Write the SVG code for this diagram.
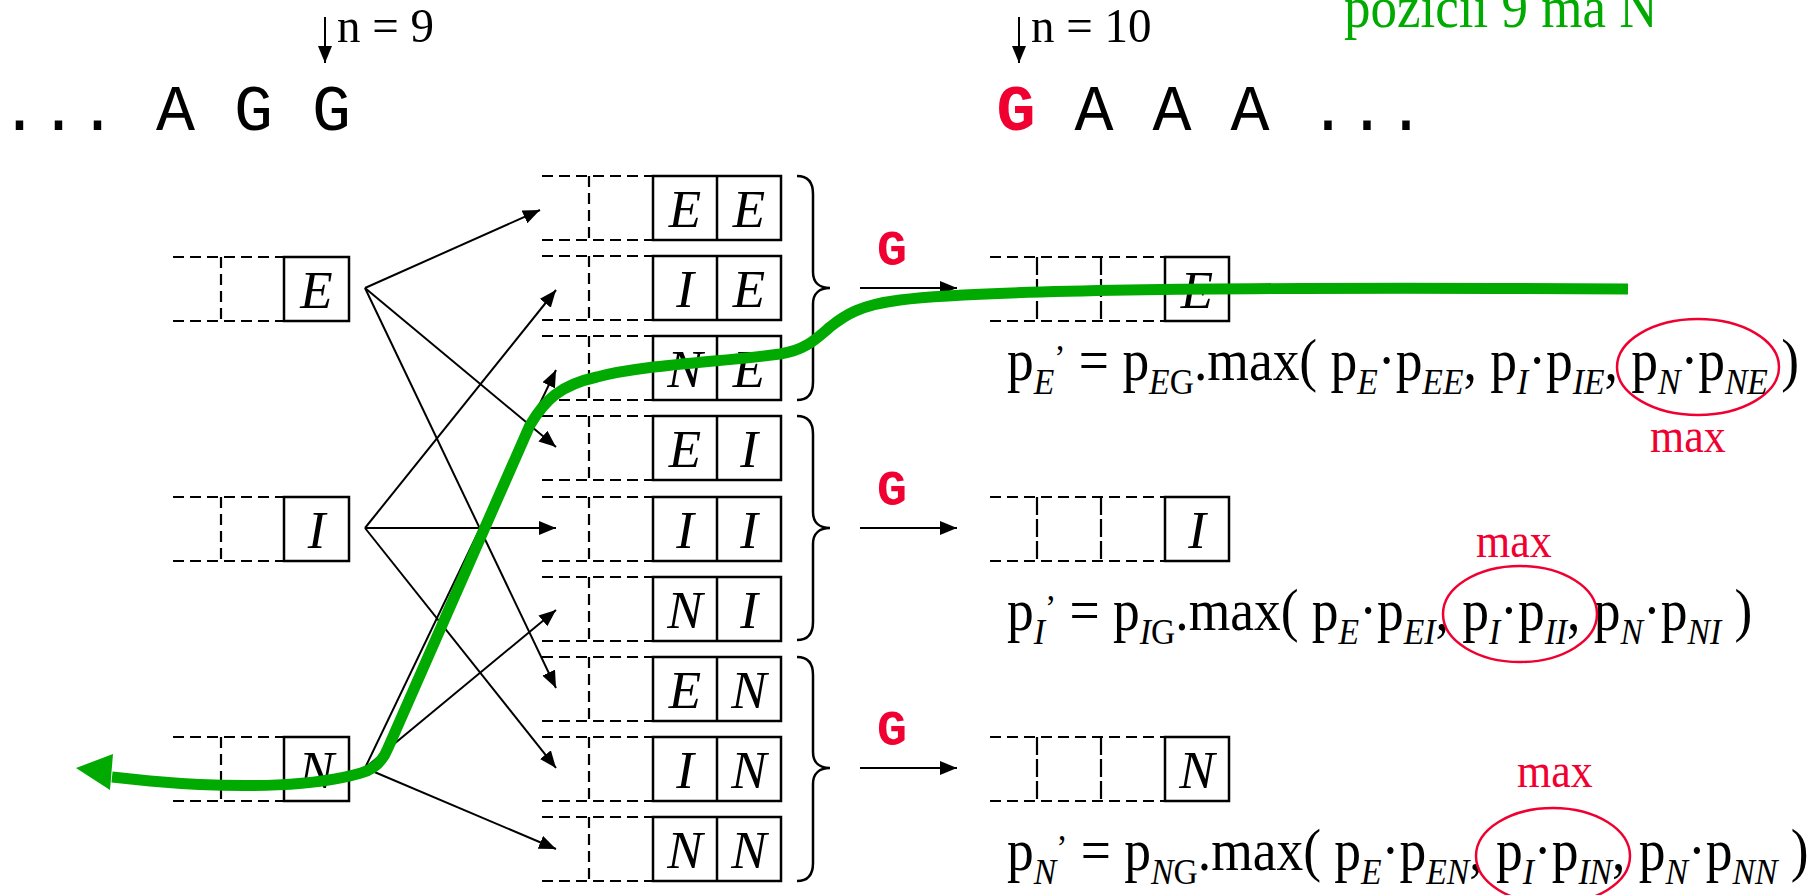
<svg xmlns="http://www.w3.org/2000/svg" width="1813" height="895" viewBox="0 0 1813 895">
<defs>
<marker id="ah" markerUnits="userSpaceOnUse" markerWidth="17" markerHeight="14" refX="17" refY="7" orient="auto"><path d="M0,0 L17,7 L0,14 z" fill="#000"/></marker>
</defs>
<style>
.d{fill:none;stroke:#000;stroke-width:2.2;stroke-dasharray:11 6}
.dl{fill:none;stroke:#000;stroke-width:2.2;stroke-dasharray:18 4}
.b{fill:none;stroke:#000;stroke-width:2.5}
.L{font-family:"Liberation Serif",serif;font-size:53px;font-style:italic;text-anchor:middle}
.f{font-family:"Liberation Serif",serif;font-size:54px}
.s{font-size:34px;font-style:italic}
.u{font-style:normal}
.m{font-family:"Liberation Serif",serif;font-size:44px;fill:#F00030}
.c{fill:none;stroke:#F00030;stroke-width:2.5}
.mono{font-family:"Liberation Mono",monospace;font-size:65px}
.g{font-family:"Liberation Mono",monospace;font-weight:bold;font-size:50px;fill:#F00030}
.a{stroke:#000;stroke-width:2;fill:none;marker-end:url(#ah)}
.br{fill:none;stroke:#000;stroke-width:2.5}
.n{font-family:"Liberation Serif",serif;font-size:47px}
</style>
<rect width="1813" height="895" fill="#fff"/>

<g id="sequence">
<text class="mono" x="0" y="130">... A G G</text>
<text class="mono" x="996.5" y="130"><tspan font-weight="bold" fill="#F00030">G</tspan> A A A ...</text>
<text class="n" transform="translate(337,42) scale(1,1.05)">n = 9</text>
<text class="n" transform="translate(1031,42) scale(1,1.05)">n = 10</text>
<text transform="translate(1344,27) scale(1,1.1)" font-family="Liberation Serif, serif" font-size="53" fill="#00AA00">pozicii 9 ma N</text>
</g>

<g id="state-E">
<path class="d" d="M173,257 H284 M173,321 H284 M221,257 V321"/>
<rect class="b" x="284" y="257" width="65" height="64"/>
<text class="L" x="316.5" y="308">E</text>
</g>
<g id="state-I">
<path class="d" d="M173,497 H284 M173,561 H284 M221,497 V561"/>
<rect class="b" x="284" y="497" width="65" height="64"/>
<text class="L" x="316.5" y="548">I</text>
</g>
<g id="state-N">
<path class="d" d="M173,737 H284 M173,801 H284 M221,737 V801"/>
<rect class="b" x="284" y="737" width="65" height="64"/>
<text class="L" x="316.5" y="788">N</text>
</g>

<g id="pair-EE"><path class="d" d="M542,176 H653 M542,240 H653 M589,176 V240"/><rect class="b" x="653" y="176" width="128" height="64"/><path class="b" d="M717,176 V240"/><text class="L" x="685" y="227">E</text><text class="L" x="749" y="227">E</text></g>
<g id="pair-IE"><path class="d" d="M542,256 H653 M542,320 H653 M589,256 V320"/><rect class="b" x="653" y="256" width="128" height="64"/><path class="b" d="M717,256 V320"/><text class="L" x="685" y="307">I</text><text class="L" x="749" y="307">E</text></g>
<g id="pair-NE"><path class="d" d="M542,336 H653 M542,400 H653 M589,336 V400"/><rect class="b" x="653" y="336" width="128" height="64"/><path class="b" d="M717,336 V400"/><text class="L" x="685" y="387">N</text><text class="L" x="749" y="387">E</text></g>
<g id="pair-EI"><path class="d" d="M542,416 H653 M542,480 H653 M589,416 V480"/><rect class="b" x="653" y="416" width="128" height="64"/><path class="b" d="M717,416 V480"/><text class="L" x="685" y="467">E</text><text class="L" x="749" y="467">I</text></g>
<g id="pair-II"><path class="d" d="M542,497 H653 M542,561 H653 M589,497 V561"/><rect class="b" x="653" y="497" width="128" height="64"/><path class="b" d="M717,497 V561"/><text class="L" x="685" y="548">I</text><text class="L" x="749" y="548">I</text></g>
<g id="pair-NI"><path class="d" d="M542,577 H653 M542,641 H653 M589,577 V641"/><rect class="b" x="653" y="577" width="128" height="64"/><path class="b" d="M717,577 V641"/><text class="L" x="685" y="628">N</text><text class="L" x="749" y="628">I</text></g>
<g id="pair-EN"><path class="d" d="M542,657 H653 M542,721 H653 M589,657 V721"/><rect class="b" x="653" y="657" width="128" height="64"/><path class="b" d="M717,657 V721"/><text class="L" x="685" y="708">E</text><text class="L" x="749" y="708">N</text></g>
<g id="pair-IN"><path class="d" d="M542,737 H653 M542,801 H653 M589,737 V801"/><rect class="b" x="653" y="737" width="128" height="64"/><path class="b" d="M717,737 V801"/><text class="L" x="685" y="788">I</text><text class="L" x="749" y="788">N</text></g>
<g id="pair-NN"><path class="d" d="M542,817 H653 M542,881 H653 M589,817 V881"/><rect class="b" x="653" y="817" width="128" height="64"/><path class="b" d="M717,817 V881"/><text class="L" x="685" y="868">N</text><text class="L" x="749" y="868">N</text></g>

<g id="next-E">
<path class="d" d="M990,257 H1165 M990,321 H1165"/><path class="dl" d="M1037,257 V321 M1101,257 V321"/>
<rect class="b" x="1165" y="257" width="64" height="64"/>
<text class="L" x="1197" y="308">E</text>
</g>
<g id="next-I">
<path class="d" d="M990,497 H1165 M990,561 H1165"/><path class="dl" d="M1037,497 V561 M1101,497 V561"/>
<rect class="b" x="1165" y="497" width="64" height="64"/>
<text class="L" x="1197" y="548">I</text>
</g>
<g id="next-N">
<path class="d" d="M990,737 H1165 M990,801 H1165"/><path class="dl" d="M1037,737 V801 M1101,737 V801"/>
<rect class="b" x="1165" y="737" width="64" height="64"/>
<text class="L" x="1197" y="788">N</text>
</g>

<g id="connectors">
<line class="a" x1="325" y1="17" x2="325" y2="63"/>
<line class="a" x1="1019" y1="17" x2="1019" y2="63"/>
<line class="a" x1="365" y1="288" x2="540" y2="210"/>
<line class="a" x1="365" y1="288" x2="556" y2="447"/>
<line class="a" x1="365" y1="288" x2="556" y2="688"/>
<line class="a" x1="365" y1="528" x2="556" y2="290"/>
<line class="a" x1="365" y1="528" x2="556" y2="528"/>
<line class="a" x1="365" y1="528" x2="556" y2="768"/>
<line class="a" x1="365" y1="768" x2="556" y2="370"/>
<line class="a" x1="365" y1="768" x2="556" y2="610"/>
<line class="a" x1="365" y1="768" x2="556" y2="849"/>
<path class="br" d="M797,176 C808,176 813,183 813,194 L813,272 C813,283 820,288 830,288 C820,288 813,293 813,304 L813,382 C813,393 808,400 797,400"/>
<path class="br" d="M797,416 C808,416 813,423 813,434 L813,512 C813,523 820,528 830,528 C820,528 813,533 813,544 L813,622 C813,633 808,640 797,640"/>
<path class="br" d="M797,657 C808,657 813,664 813,675 L813,752 C813,763 820,768 830,768 C820,768 813,773 813,784 L813,863 C813,874 808,881 797,881"/>
<line class="a" x1="860" y1="288" x2="957" y2="288"/>
<line class="a" x1="860" y1="528" x2="957" y2="528"/>
<line class="a" x1="860" y1="768" x2="957" y2="768"/>
</g>

<g id="labels-G">
<text class="g" x="877" y="265">G</text>
<text class="g" x="877" y="505">G</text>
<text class="g" x="877" y="745">G</text>
</g>

<g id="formula-E">
<text class="f" transform="translate(1007,380) scale(0.99,1.08)">p<tspan class="s" dy="13">E</tspan><tspan class="s u" dy="-22">’</tspan><tspan dy="9"> = p</tspan><tspan class="s" dy="13">E<tspan class="u">G</tspan></tspan><tspan dy="-13">.max( p</tspan><tspan class="s" dy="13">E</tspan><tspan dy="-13">·p</tspan><tspan class="s" dy="13">EE</tspan><tspan dy="-13">, p</tspan><tspan class="s" dy="13">I</tspan><tspan dy="-13">·p</tspan><tspan class="s" dy="13">IE</tspan><tspan dy="-13">, p</tspan><tspan class="s" dy="13">N</tspan><tspan dy="-13">·p</tspan><tspan class="s" dy="13">NE</tspan><tspan dy="-13"> )</tspan></text>
<ellipse class="c" cx="1698" cy="367" rx="81" ry="48"/>
<text class="m" transform="translate(1650,452) scale(1,1.12)">max</text>
</g>
<g id="formula-I">
<text class="f" transform="translate(1007,630) scale(0.99,1.08)">p<tspan class="s" dy="13">I</tspan><tspan class="s u" dy="-22">’</tspan><tspan dy="9"> = p</tspan><tspan class="s" dy="13">I<tspan class="u">G</tspan></tspan><tspan dy="-13">.max( p</tspan><tspan class="s" dy="13">E</tspan><tspan dy="-13">·p</tspan><tspan class="s" dy="13">EI</tspan><tspan dy="-13">, p</tspan><tspan class="s" dy="13">I</tspan><tspan dy="-13">·p</tspan><tspan class="s" dy="13">II</tspan><tspan dy="-13">, p</tspan><tspan class="s" dy="13">N</tspan><tspan dy="-13">·p</tspan><tspan class="s" dy="13">NI</tspan><tspan dy="-13"> )</tspan></text>
<ellipse class="c" cx="1520" cy="614" rx="77" ry="48"/>
<text class="m" transform="translate(1476,557) scale(1,1.12)">max</text>
</g>
<g id="formula-N">
<text class="f" transform="translate(1007,870) scale(0.99,1.08)">p<tspan class="s" dy="13">N</tspan><tspan class="s u" dy="-22">’</tspan><tspan dy="9"> = p</tspan><tspan class="s" dy="13">N<tspan class="u">G</tspan></tspan><tspan dy="-13">.max( p</tspan><tspan class="s" dy="13">E</tspan><tspan dy="-13">·p</tspan><tspan class="s" dy="13">EN</tspan><tspan dy="-13">, p</tspan><tspan class="s" dy="13">I</tspan><tspan dy="-13">·p</tspan><tspan class="s" dy="13">IN</tspan><tspan dy="-13">, p</tspan><tspan class="s" dy="13">N</tspan><tspan dy="-13">·p</tspan><tspan class="s" dy="13">NN</tspan><tspan dy="-13"> )</tspan></text>
<ellipse class="c" cx="1553" cy="856" rx="77" ry="48"/>
<text class="m" transform="translate(1517,787) scale(1,1.12)">max</text>
</g>

<g id="best-path">
<path d="M1628,289 C1300,287 1000,288 900,300 C860,305 845,315 830,327 C815,340 805,350 780,354 C720,362 640,365 597,377 C560,385 545,400 530,425 L388,748 Q380,768 361,773 C320,785 250,790 150,781 L112,777" fill="none" stroke="#00AA00" stroke-width="11" stroke-linejoin="round"/>
<polygon points="76,768 113,754 110,790" fill="#00AA00"/>
</g>
</svg>
